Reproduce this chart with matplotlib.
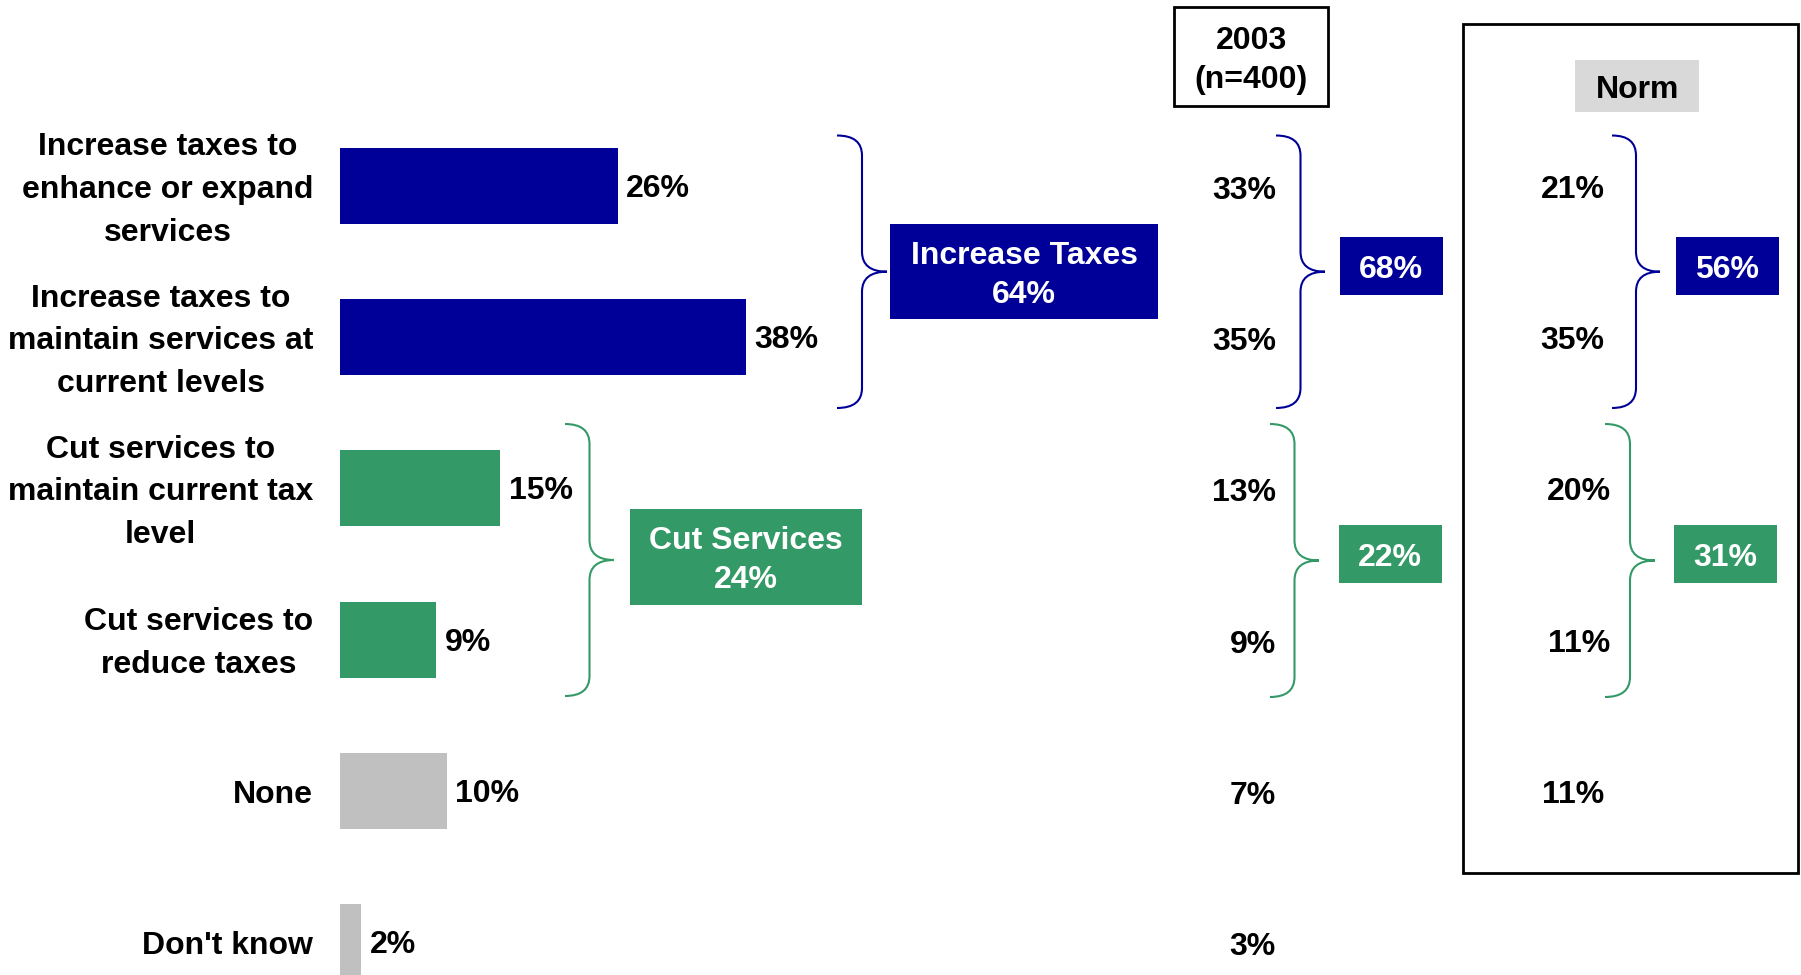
import matplotlib.pyplot as plt
from matplotlib.patches import Rectangle, PathPatch
from matplotlib.path import Path
from matplotlib.transforms import blended_transform_factory, offset_copy

plt.rcParams['font.family'] = ['Liberation Sans', 'DejaVu Sans']
plt.rcParams['font.weight'] = 'bold'

categories = ['Increase taxes to\nenhance or expand\nservices',
              'Increase taxes to\nmaintain services at\ncurrent levels',
              'Cut services to\nmaintain current tax\nlevel',
              'Cut services to\nreduce taxes',
              'None',
              "Don't know"]
values_now = [26, 38, 15, 9, 10, 2]
values_2003 = [33, 35, 13, 9, 7, 3]
values_norm = [21, 35, 20, 11, 11]
groups = ['Increase Taxes', 'Cut Services']
group_now = [64, 24]
group_2003 = [68, 22]
group_norm = [56, 31]

NAVY = '#000099'
GREEN = '#339966'
GRAY = '#C0C0C0'
bar_colors = [NAVY, NAVY, GREEN, GREEN, GRAY, GRAY]
FS = 23

W, H = 1801, 975
fig = plt.figure(figsize=(W / 100, H / 100), dpi=100)

# bar axes: x in percent, y in rows
ppp = 10.68   # pixels per percent
x0 = 340
row0, step = 186, 151.2
ax = fig.add_axes([0, 0, 1, 1])
ax.set_xlim(-x0 / ppp, (W - x0) / ppp)
ax.set_ylim((H - row0) / step, -row0 / step)
ax.axis('off')

# overlay axes in pixels for the decorations
px = fig.add_axes([0, 0, 1, 1])
px.set_xlim(0, W)
px.set_ylim(H, 0)
px.axis('off')
px.patch.set_alpha(0)


def down(trans, dy=4):
    # nudge text a few pixels down so glyphs sit on the row centre
    return offset_copy(trans, fig=fig, x=0, y=-dy, units='dots')


rows = range(len(categories))
ax.barh(rows, values_now, height=76 / step, color=bar_colors)
for i, (lab, v) in enumerate(zip(categories, values_now)):
    ax.text(v + 0.8, i, f'{v}%', va='center', ha='left', fontsize=FS,
            transform=down(ax.transData, 3))
    ax.text(-2.5, i, lab, va='center', ha='right', multialignment='center',
            fontsize=FS, linespacing=1.55, transform=down(ax.transData, 4))

tr = blended_transform_factory(px.transData, ax.transData)
for i, v in enumerate(values_2003):
    ax.text(1276, i, f'{v}%', transform=down(tr, 5), ha='right', va='center', fontsize=FS)
norm_x = [1605, 1604, 1611, 1610, 1604]
for i, v in enumerate(values_norm):
    ax.text(norm_x[i], i, f'{v}%', transform=down(tr, 4), ha='right', va='center', fontsize=FS)


def brace(x_tip, x_mid, y_top, y_bot, y_mid, color, r=20):
    xv = (x_tip + x_mid) / 2
    verts = [(x_tip, y_top), (xv, y_top), (xv, y_top + r),
             (xv, y_mid - r), (xv, y_mid), (x_mid, y_mid),
             (xv, y_mid), (xv, y_mid + r),
             (xv, y_bot - r), (xv, y_bot), (x_tip, y_bot)]
    codes = [Path.MOVETO, Path.CURVE3, Path.CURVE3,
             Path.LINETO, Path.CURVE3, Path.CURVE3,
             Path.CURVE3, Path.CURVE3,
             Path.LINETO, Path.CURVE3, Path.CURVE3]
    px.add_patch(PathPatch(Path(verts, codes), fc='none', ec=color, lw=1.5))


def box(x1, x2, y1, y2, color, text, tcolor='white', ec='none', lw=0, ls=1.2):
    px.add_patch(Rectangle((x1, y1), x2 - x1, y2 - y1, fc=color, ec=ec, lw=lw))
    if text:
        px.text((x1 + x2) / 2, (y1 + y2) / 2, text, ha='center', va='center',
                color=tcolor, fontsize=FS, linespacing=ls,
                transform=down(px.transData, 4))


# brackets
brace(837, 887, 135.5, 408, 271.7, NAVY)
brace(565, 614, 424, 696, 560, GREEN)
brace(1276, 1325, 135.5, 408, 271.7, NAVY)
brace(1270, 1319, 424, 697, 560.5, GREEN)
brace(1612, 1660, 135.5, 408, 271.7, NAVY)
brace(1605, 1655, 424, 697, 560.5, GREEN)

# group totals
box(890, 1158, 224, 319.3, NAVY, f'{groups[0]}\n{group_now[0]}%', ls=1.4)
box(630, 862, 509, 604.6, GREEN, f'{groups[1]}\n{group_now[1]}%', ls=1.4)
box(1339.6, 1443, 237, 294.7, NAVY, f'{group_2003[0]}%')
box(1338.7, 1442, 525, 583, GREEN, f'{group_2003[1]}%')
box(1675.8, 1779, 237, 294.7, NAVY, f'{group_norm[0]}%')
box(1673.7, 1777, 525, 583, GREEN, f'{group_norm[1]}%')

# column headers
box(1174, 1328, 7.3, 106, 'white', '2003\n(n=400)', tcolor='black', ec='black', lw=2, ls=1.4)
px.add_patch(Rectangle((1463, 23.7), 1798 - 1463, 872.5 - 23.7, fc='none', ec='black', lw=2))
box(1575.4, 1699, 60, 111.7, '#D9D9D9', 'Norm', tcolor='black')

fig.savefig('out.png', dpi=100)
